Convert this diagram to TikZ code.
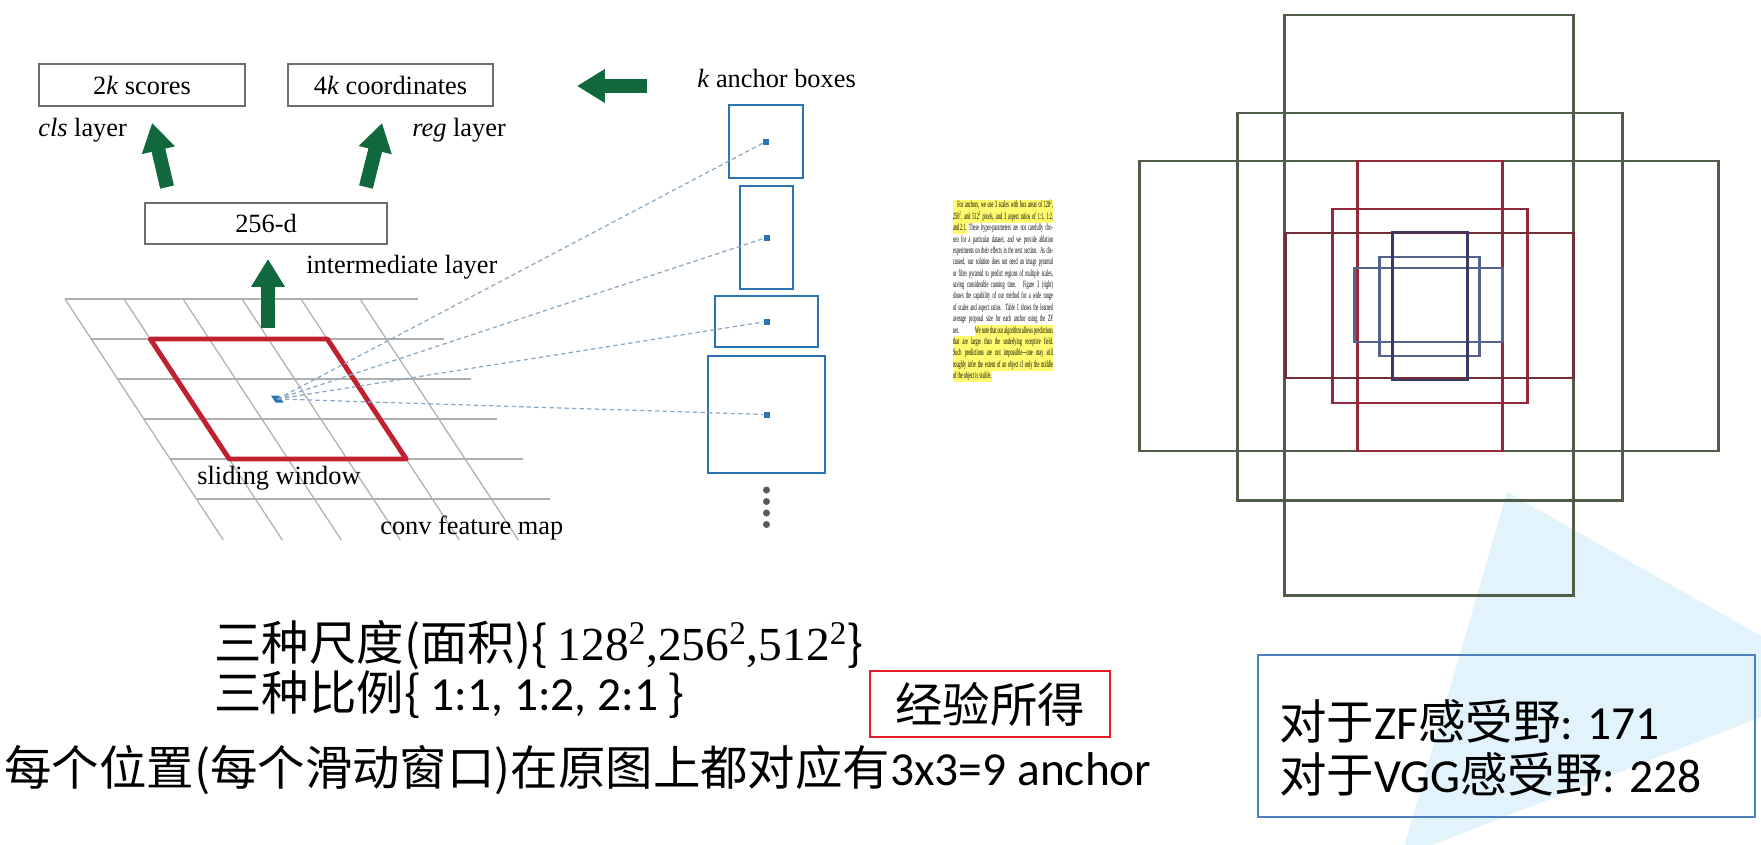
\documentclass[tikz,border=0pt]{standalone}
\usepackage{fontspec}
\usepackage{graphicx}
\setmainfont{Liberation Serif}
\newfontfamily\zhfont{Noto Sans CJK SC}
\newfontfamily\slidefont{Carlito}
\usetikzlibrary{arrows.meta,calc}
\definecolor{RpnGreen}{RGB}{16,104,60}
\definecolor{RpnBoxGray}{RGB}{110,110,110}
\definecolor{RpnGridGray}{RGB}{175,175,175}
\definecolor{RpnWindowRed}{RGB}{192,32,48}
\definecolor{RpnAnchorBlue}{RGB}{46,116,181}
\definecolor{RpnRay}{RGB}{140,168,196}
\definecolor{RpnDot}{RGB}{90,90,90}
\definecolor{RpnYellow}{RGB}{255,250,110}
\definecolor{RectGreen}{RGB}{78,92,72}
\definecolor{RectRed}{RGB}{150,40,60}
\definecolor{RectMaroon}{RGB}{115,45,55}
\definecolor{RectBlue}{RGB}{85,100,140}
\definecolor{RectNavy}{RGB}{55,58,100}
\definecolor{SkyTint}{RGB}{226,243,251}
\definecolor{RfBlue}{RGB}{79,129,189}
\definecolor{NoteRed}{RGB}{230,30,35}
\newcommand{\zh}[1]{{\zhfont #1}}
\newcommand{\hilite}[1]{{\setlength{\fboxsep}{0pt}\colorbox{RpnYellow}{#1}}}
\newcommand{\paperline}[1]{\makebox[235pt][s]{#1}}
\newcommand{\papertext}{%
  \fontsize{10}{12}\selectfont
  \begin{tabular}{@{}l@{}}
  \hilite{\strut\paperline{\hspace{1em}For anchors, we use 3 scales with box areas of 128\textsuperscript{2},}}\\
  \hilite{\strut\paperline{256\textsuperscript{2}, and 512\textsuperscript{2} pixels, and 3 aspect ratios of 1:1, 1:2,}}\\
  \paperline{\hilite{\strut and 2:1.} These hyper-parameters are not carefully cho-}\\
  \paperline{sen for a particular dataset, and we provide ablation}\\
  \paperline{experiments on their effects in the next section. As dis-}\\
  \paperline{cussed, our solution does not need an image pyramid}\\
  \paperline{or filter pyramid to predict regions of multiple scales,}\\
  \paperline{saving considerable running time. Figure 3 (right)}\\
  \paperline{shows the capability of our method for a wide range}\\
  \paperline{of scales and aspect ratios. Table 1 shows the learned}\\
  \paperline{average proposal size for each anchor using the ZF}\\
  \paperline{net. \hilite{\strut We note that our algorithm allows predictions}}\\
  \hilite{\strut\paperline{that are larger than the underlying receptive field.}}\\
  \hilite{\strut\paperline{Such predictions are not impossible---one may still}}\\
  \hilite{\strut\paperline{roughly infer the extent of an object if only the middle}}\\
  \hilite{\strut of the object is visible.}
  \end{tabular}}
\tikzset{
  rpn/box/.style={draw=RpnBoxGray, line width=1.1pt, fill=white, inner sep=0pt,
    align=center, font=\fontsize{15}{18}\selectfont},
  rpn/label/.style={inner sep=0pt, font=\fontsize{15}{18}\selectfont},
  rpn/fat/.style={-{Triangle[length=0.56cm,width=0.64cm]}, line width=8pt, draw=RpnGreen},
  rpn/grid/.style={draw=RpnGridGray, line width=0.7pt},
  rpn/window/.style={draw=RpnWindowRed, line width=2.8pt, line join=round},
  rpn/anchor/.style={draw=RpnAnchorBlue, line width=1.2pt, inner sep=0pt},
  rpn/center/.style={fill=RpnAnchorBlue, minimum size=0.12cm, inner sep=0pt},
  rpn/ray/.style={draw=RpnRay, line width=0.7pt, dash pattern=on 2.5pt off 1.8pt},
  rpn/rect/.style={line width=1.7pt},
  rpn/zh/.style={inner sep=0pt, font=\fontsize{27}{30}\selectfont}
}
\begin{document}
\begin{tikzpicture}[x=0.02cm,y=-0.02cm]
  \useasboundingbox (0,0) rectangle (1761,845);
  \fill[white] (0,0) rectangle (1761,845);
  % tint in the lower right corner
  \begin{scope}
    \clip (0,0) rectangle (1761,845);
    \fill[SkyTint] (1507,492) -- (1846,684) -- (1401,857) -- cycle;
  \end{scope}

  % conv feature map
  \foreach \i in {0,...,5}
    \draw[rpn/grid] ({65+26.3*\i},{299+40*\i}) -- ({418+26.3*\i},{299+40*\i});
  \foreach \j in {0,...,5}
    \draw[rpn/grid] ({65+59*\j},299) -- ({223.3+59*\j},540);
  \draw[rpn/window] (150.3,339) -- (327.3,339) -- (406.2,459) -- (229.2,459) -- cycle;
  \coordinate (win) at (277.5,399);
  \fill[RpnAnchorBlue] (271,395.5) -- (279,395.5) -- (283.5,402.5) -- (275.5,402.5) -- cycle;
  \node[rpn/label, anchor=west] (slide) at (197,478) {sliding window};
  \node[rpn/label, anchor=west] (fmap) at (380,528) {conv feature map};

  % layers
  \node[rpn/box, minimum width=4.12cm, minimum height=0.84cm] (scores) at (142,85) {2\textit{k} scores};
  \node[rpn/box, minimum width=4.10cm, minimum height=0.84cm] (coords) at (390.5,85) {4\textit{k} coordinates};
  \node[rpn/box, minimum width=4.84cm, minimum height=0.82cm] (dfeat) at (266,223.5) {256-d};
  \node[rpn/label, anchor=west] (cls) at (38,130) {\textit{cls} layer};
  \node[rpn/label, anchor=west] (reg) at (412,130) {\textit{reg} layer};
  \node[rpn/label, anchor=west] (inter) at (306,267) {intermediate layer};

  % anchors
  \node[rpn/label, anchor=west] (kab) at (697,78) {\textit{k} anchor boxes};
  \node[rpn/anchor, minimum width=1.48cm, minimum height=1.46cm] (a1) at (766,141.5) {};
  \node[rpn/anchor, minimum width=1.06cm, minimum height=2.06cm] (a2) at (766.5,237.5) {};
  \node[rpn/anchor, minimum width=2.06cm, minimum height=1.02cm] (a3) at (766.5,321.5) {};
  \node[rpn/anchor, minimum width=2.34cm, minimum height=2.34cm] (a4) at (766.5,414.5) {};
  \foreach \n in {1,...,4} {
    \node[rpn/center] (c\n) at (a\n.center) {};
    \draw[rpn/ray] (win) -- (c\n);
  }
  \foreach \y in {490,501.5,513,524.5}
    \fill[RpnDot] (766.5,\y) circle[radius=0.07cm];

  % green arrows
  \draw[rpn/fat] ($(dfeat.north west)+(23,-15)$) -- ($(scores.south west)+(114,16)$);
  \draw[rpn/fat] ($(dfeat.north east)+(-22,-15)$) -- ($(coords.south west)+(95,16)$);
  \coordinate (upbase) at (268,328);
  \draw[rpn/fat] (upbase) -- ($(dfeat.south)+(2,14)$);
  \draw[rpn/fat] ($(kab.west)+(-50,8)$) -- ($(coords.east)+(83,1)$);

  % paper excerpt
  \node[inner sep=0pt] (paper) at (1003,291) {\resizebox*{2.0cm}{3.64cm}{\papertext}};

  % 9 anchors at one position
  \draw[rpn/rect, RectGreen] (1284,15) rectangle (1573,595) (1237,113) rectangle (1622,500)
    (1139,161) rectangle (1718,451);
  \draw[rpn/rect, RectRed] (1357,161) rectangle (1502,451) (1332,209) rectangle (1527,403);
  \draw[rpn/rect, RectMaroon] (1285,233) rectangle (1573,378);
  \draw[rpn/rect, RectBlue] (1379,257) rectangle (1479,356) (1354,268) rectangle (1502,342);
  \draw[rpn/rect, RectNavy] (1392,232) rectangle (1467,380);

  % notes
  \node[rpn/zh, anchor=west] (scales) at (214,645)
    {\zh{三种尺度(面积)\{ }128\textsuperscript{2},256\textsuperscript{2},512\textsuperscript{2}\zh{\}}};
  \node[rpn/zh, anchor=west] (ratios) at (214,695)
    {\zh{三种比例\{ }{\slidefont 1:1, 1:2, 2:1 }\zh{\}}};
  \node[rpn/zh, anchor=west] (perpos) at (4,770)
    {\zh{每个位置(每个滑动窗口)在原图上都对应有}{\slidefont 3x3=9 anchor}};
  \node[rpn/zh, draw=NoteRed, line width=1.4pt, minimum width=4.8cm, minimum height=1.32cm] (note)
    at (990,704) {\zh{经验所得}};
  \node[draw=RfBlue, line width=1.1pt, minimum width=9.94cm, minimum height=3.24cm] (rf)
    at (1506.5,736) {};
  \node[rpn/zh, anchor=west, align=left] (rftext) at (1279,748)
    {\zh{对于}{\slidefont ZF}\zh{感受野}{\slidefont : 171}\\
     \zh{对于}{\slidefont VGG}\zh{感受野}{\slidefont : 228}};
\end{tikzpicture}
\end{document}
